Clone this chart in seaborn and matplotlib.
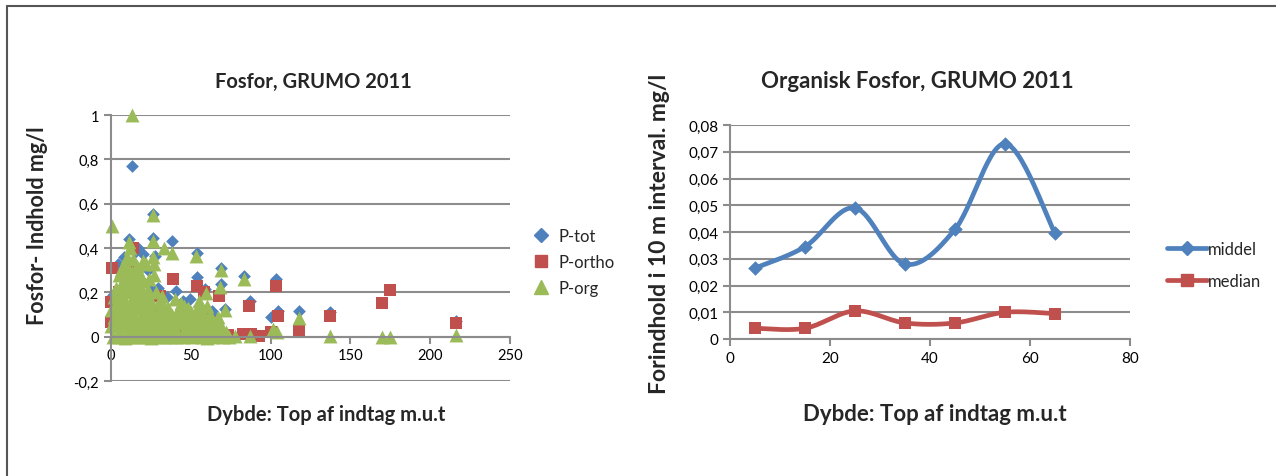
import numpy as np
import matplotlib
matplotlib.use("Agg")
import matplotlib.pyplot as plt
from matplotlib.lines import Line2D
import seaborn as sns

# --- left chart: Fosfor, GRUMO 2011 (depth m, value mg/l) ---
ptot_depth = [13, 26.6, 26.6, 38.5, 11.5, 54, 69, 83.5, 103.5, 117.5, 104.6, 100, 137.5, 216, 87,
              54, 69, 29.7, 27.6, 20.3, 4.6, 1.5, 63, 71.5, 59, 45.4, 0, 49.6, 41, 8, 15, 10, 18, 23,
              3, 6, 12, 35, 25, 17, 30, 60, 66, 48, 55]
ptot_value = [0.77, 0.555, 0.447, 0.43, 0.44, 0.377, 0.31, 0.275, 0.26, 0.117, 0.117, 0.087, 0.11, 0.072, 0.16,
              0.27, 0.237, 0.218, 0.365, 0.372, 0.327, 0.19, 0.117, 0.125, 0.215, 0.162, 0.095, 0.17, 0.207, 0.36, 0.38, 0.3, 0.26, 0.3,
              0.2, 0.15, 0.2, 0.18, 0.21, 0.4, 0.12, 0.1, 0.08, 0.11, 0.14]

portho_depth = [0.8, 14, 39, 54, 58.4, 67.8, 86.6, 103.4, 104.6, 117.5, 137.5, 169.5, 174.7, 216, 100,
                83, 73.5, 65, 0, 0, 8.8, 12, 30.8, 19, 35, 49.6, 43, 88, 93, 60, 55, 25, 5, 16, 10, 22, 28, 45]
portho_value = [0.31, 0.4, 0.26, 0.23, 0.203, 0.182, 0.14, 0.227, 0.095, 0.024, 0.092, 0.15, 0.21, 0.06, 0.02,
                0.012, 0.008, 0.065, 0.155, 0.065, 0.29, 0.32, 0.185, 0.147, 0.095, 0.08, 0.05, 0.01, 0.005, 0.09, 0.06, 0.12, 0.2, 0.22, 0.1, 0.05, 0.02, 0.11]

porg_depth = [13.4, 0.8, 26.6, 26.6, 33.5, 38.5, 53.3, 69, 68.6, 83.5, 59.4, 11.5, 71.5, 117.5, 101.5, 104,
              137.5, 169.5, 174.7, 216, 78, 87, 54,
              12, 10, 14, 8, 16, 20, 22, 26.6, 27, 5, 9, 13, 18, 24, 27, 3, 7, 11, 15, 19, 23, 28,
              2, 6, 10, 14, 17, 21, 25, 30, 33, 36, 40, 42, 45, 48, 52, 55, 57, 60, 63, 66,
              0, 4, 8, 12, 16, 20, 24, 28, 32, 36, 40, 44, 48, 52, 56, 60, 64, 68, 72,
              0, 3, 6, 9, 12, 15, 18, 21, 24, 27, 30, 33, 36, 39, 42, 45, 48, 51, 54, 57, 60, 63, 66, 70, 74,
              1, 5, 9, 13, 17, 21, 25, 29, 33, 37, 41, 45,
              2, 7, 11, 15, 19, 23, 27, 31, 35, 18, 22, 30, 34, 38, 50, 58, 46, 44, 32, 20, 17, 6,
              4, 8, 12, 16, 20, 24, 9, 13, 17, 21, 11, 15, 19, 3, 7, 5, 10, 14, 18, 22, 26,
              49, 53, 57, 61, 65, 69, 50, 62, 67, 56, 47, 43, 39, 35, 31]
porg_value = [1.0, 0.5, 0.55, 0.43, 0.40, 0.377, 0.365, 0.30, 0.225, 0.26, 0.195, 0.425, 0.12, 0.085, 0.035, 0.02,
              0.005, 0.0, 0.0, 0.008, 0.005, 0.005, 0.125,
              0.40, 0.36, 0.35, 0.33, 0.32, 0.34, 0.33, 0.36, 0.33, 0.28, 0.27, 0.29, 0.28, 0.26, 0.28, 0.22, 0.24, 0.25, 0.23, 0.22, 0.21, 0.2,
              0.18, 0.19, 0.2, 0.18, 0.17, 0.17, 0.16, 0.15, 0.14, 0.13, 0.17, 0.12, 0.1, 0.13, 0.09, 0.16, 0.12, 0.14, 0.08, 0.06,
              0.12, 0.13, 0.14, 0.12, 0.13, 0.11, 0.12, 0.1, 0.09, 0.08, 0.07, 0.06, 0.05, 0.04, 0.05, 0.03, 0.02, 0.01, 0.02,
              0.05, 0.06, 0.07, 0.05, 0.04, 0.06, 0.05, 0.04, 0.03, 0.05, 0.04, 0.03, 0.02, 0.03, 0.01, 0.02, 0.01, 0.0, 0.01, 0.0, -0.005, 0.0, 0.005, 0.0, 0.0,
              0.0, 0.0, -0.005, 0.0, 0.0, 0.0, -0.005, 0.0, 0.0, 0.0, 0.0, 0.0,
              0.09, 0.1, 0.08, 0.09, 0.08, 0.07, 0.07, 0.065, 0.05, 0.13, 0.14, 0.12, 0.11, 0.1, 0.07, 0.07, 0.14, 0.15, 0.185, 0.25, 0.3, 0.3,
              0.16, 0.17, 0.15, 0.16, 0.15, 0.14, 0.21, 0.22, 0.2, 0.19, 0.3, 0.27, 0.25, 0.1, 0.11, 0.02, 0.02, 0.03, 0.02, 0.09, 0.08,
              0.03, 0.06, 0.04, 0.05, 0.03, 0.05, 0.11, 0.1, 0.09, 0.09, 0.08, 0.09, 0.05, 0.06, 0.08]

# --- right chart: Organisk Fosfor, GRUMO 2011 ---
interval_depth = [5, 15, 25, 35, 45, 55, 65]
middel = [0.0265, 0.0345, 0.049, 0.028, 0.041, 0.073, 0.0395]
median = [0.004, 0.004, 0.0105, 0.006, 0.006, 0.010, 0.0095]

BLUE = "#4F81BD"
RED = "#C0504D"
GREEN = "#9BBB59"
GRID = "#8C8C8C"

sns.set_style("white")
plt.rcParams["font.family"] = ["Lato", "DejaVu Sans"]


def smooth(x, y, n=30):
    # Catmull-Rom path through the points, like Excel's smoothed line
    pts = np.column_stack([x, y]).astype(float)
    pts = np.vstack([pts[0], pts, pts[-1]])
    out = []
    t = np.linspace(0, 1, n)[:, None]
    for i in range(1, len(pts) - 2):
        p0, p1, p2, p3 = pts[i - 1], pts[i], pts[i + 1], pts[i + 2]
        seg = 0.5 * (2 * p1 + (-p0 + p2) * t + (2 * p0 - 5 * p1 + 4 * p2 - p3) * t ** 2
                     + (-p0 + 3 * p1 - 3 * p2 + p3) * t ** 3)
        out.append(seg)
    out = np.vstack(out)
    return out[:, 0], out[:, 1]


def style_axes(ax, labelsize):
    for s in ["top", "right"]:
        ax.spines[s].set_visible(False)
    for s in ["left", "bottom"]:
        ax.spines[s].set_color(GRID)
        ax.spines[s].set_linewidth(1.5)
    ax.yaxis.grid(True, color=GRID, linewidth=1.5)
    ax.xaxis.grid(False)
    ax.set_axisbelow(True)
    ax.tick_params(axis="both", direction="out", length=5, width=1.5, color=GRID,
                   labelsize=labelsize, labelcolor="black", bottom=True, left=True)
    ax.set_xlabel("")
    ax.set_ylabel("")


def comma(v, digits):
    if v == 0:
        return "0"
    s = f"{v:.{digits}f}".rstrip("0").rstrip(".")
    return s.replace(".", ",")


fig = plt.figure(figsize=(12.76, 4.77), dpi=100)

# left scatter
ax1 = fig.add_axes([111 / 1276, (477 - 382) / 477, 399 / 1276, 266 / 477])
sns.scatterplot(x=ptot_depth, y=ptot_value, ax=ax1, marker="D", s=42, color=BLUE, linewidth=0, clip_on=False)
sns.scatterplot(x=portho_depth, y=portho_value, ax=ax1, marker="s", s=72, color=RED, linewidth=0, clip_on=False)
sns.scatterplot(x=porg_depth, y=porg_value, ax=ax1, marker="^", s=100, color=GREEN, linewidth=0, clip_on=False)
ax1.set_xlim(0, 250)
ax1.set_ylim(-0.2, 1)
style_axes(ax1, 10.5)
ax1.spines["bottom"].set_position(("data", 0))
yt1 = [-0.2, 0, 0.2, 0.4, 0.6, 0.8, 1.0]
ax1.set_yticks(yt1)
ax1.set_yticklabels([comma(v, 1) for v in yt1])
ax1.set_xticks([0, 50, 100, 150, 200, 250])
handles1 = [Line2D([], [], marker="D", color=BLUE, linestyle="", markersize=7),
            Line2D([], [], marker="s", color=RED, linestyle="", markersize=9),
            Line2D([], [], marker="^", color=GREEN, linestyle="", markersize=10)]
ax1.legend(handles1, ["P-tot", "P-ortho", "P-org"], loc="center left", bbox_to_anchor=(1.02, 0.447),
           frameon=False, fontsize=12, handletextpad=0.05, labelspacing=0.6, borderaxespad=0)

# right line chart
ax2 = fig.add_axes([730 / 1276, (477 - 340) / 477, 400 / 1276, 214 / 477])
sx, sy = smooth(interval_depth, middel)
ax2.plot(sx, sy, color=BLUE, linewidth=3.4, solid_capstyle="round")
sx, sy = smooth(interval_depth, median)
ax2.plot(sx, sy, color=RED, linewidth=3.4, solid_capstyle="round")
sns.scatterplot(x=interval_depth, y=middel, ax=ax2, marker="D", s=55, color=BLUE, linewidth=0, zorder=3)
sns.scatterplot(x=interval_depth, y=median, ax=ax2, marker="s", s=85, color=RED, linewidth=0, zorder=3)
ax2.set_xlim(0, 80)
ax2.set_ylim(0, 0.08)
style_axes(ax2, 11)
yt2 = [0, 0.01, 0.02, 0.03, 0.04, 0.05, 0.06, 0.07, 0.08]
ax2.set_yticks(yt2)
ax2.set_yticklabels([comma(v, 2) for v in yt2])
ax2.set_xticks([0, 20, 40, 60, 80])
handles2 = [Line2D([], [], marker="D", color=BLUE, linewidth=3.4, markersize=7),
            Line2D([], [], marker="s", color=RED, linewidth=3.4, markersize=9)]
ax2.legend(handles2, ["middel", "median"], loc="center left", bbox_to_anchor=(1.075, 0.346),
           frameon=False, fontsize=12, handletextpad=0.05, handlelength=2.4, labelspacing=1.0,
           borderaxespad=0)

# titles and axis labels
W, H = 1276, 477
fig.text(313 / W, 1 - 82 / H, "Fosfor, GRUMO 2011", ha="center", va="center", fontsize=14.5, fontweight="bold")
fig.text(917 / W, 1 - 82 / H, "Organisk Fosfor, GRUMO 2011", ha="center", va="center", fontsize=16, fontweight="bold")
fig.text(326 / W, 1 - 415 / H, "Dybde: Top af indtag m.u.t", ha="center", va="center", fontsize=14.5, fontweight="bold")
fig.text(935 / W, 1 - 415 / H, "Dybde: Top af indtag m.u.t", ha="center", va="center", fontsize=16, fontweight="bold")
fig.text(38 / W, 1 - 226 / H, "Fosfor- Indhold mg/l", ha="center", va="center", rotation=90, fontsize=15.5, fontweight="bold")
fig.text(660 / W, 1 - 234 / H, "Forindhold i 10 m interval. mg/l", ha="center", va="center", rotation=90,
         fontsize=16.5, fontweight="bold")

# page border (top and left edges)
fig.add_artist(Line2D([7 / W, 1], [1 - 7 / H, 1 - 7 / H], color="#555555", linewidth=1.5))
fig.add_artist(Line2D([7 / W, 7 / W], [0, 1 - 7 / H], color="#555555", linewidth=1.5))

fig.savefig("out.png", dpi=100)
